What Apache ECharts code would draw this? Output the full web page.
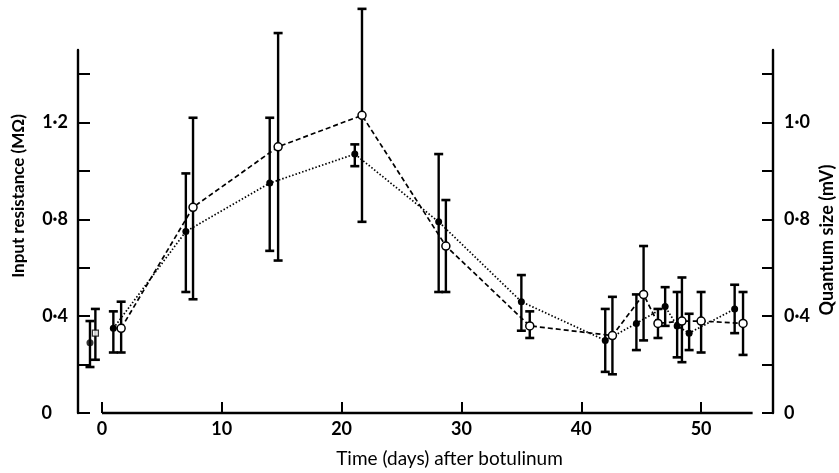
<!DOCTYPE html>
<html>
<head>
<meta charset="utf-8">
<script src="https://cdn.jsdelivr.net/npm/echarts@6/dist/echarts.min.js"></script>
<style>html,body{margin:0;padding:0;background:#fff}#c{width:839px;height:473px}</style>
</head>
<body>
<div id="c"></div>
<script>
// ---- data ----
const xTicks = [0, 10, 20, 30, 40, 50];
const leftTicks = [0, 0.2, 0.4, 0.6, 0.8, 1.0, 1.2, 1.4];
const leftLabels = [0, 0.4, 0.8, 1.2];
const leftLabelText = ['0', '0·4', '0·8', '1·2'];
const rightLabelText = ['0', '0·4', '0·8', '1·0'];

// filled circles (dotted line)
const filledDays = [0.95, 7.0, 14.0, 21.1, 28.1, 35.0, 42.0, 44.6, 47.0, 48.0, 49.0, 52.8];
const filledVals = [0.35, 0.75, 0.95, 1.07, 0.79, 0.46, 0.30, 0.37, 0.44, 0.36, 0.33, 0.43];
const filledLow  = [0.25, 0.50, 0.67, 1.02, 0.50, 0.34, 0.17, 0.26, 0.36, 0.23, 0.26, 0.33];
const filledHigh = [0.42, 0.99, 1.22, 1.11, 1.07, 0.57, 0.43, 0.49, 0.52, 0.50, 0.41, 0.53];

// open circles (dashed line)
const openDays = [1.6, 7.6, 14.7, 21.7, 28.7, 35.7, 42.6, 45.2, 46.4, 48.4, 50.0, 53.5];
const openVals = [0.35, 0.85, 1.10, 1.23, 0.69, 0.36, 0.32, 0.49, 0.37, 0.38, 0.38, 0.37];
const openLow  = [0.25, 0.47, 0.63, 0.79, 0.50, 0.31, 0.16, 0.30, 0.31, 0.21, 0.25, 0.24];
const openHigh = [0.46, 1.22, 1.57, 1.67, 0.88, 0.42, 0.48, 0.69, 0.43, 0.56, 0.50, 0.50];

// controls (unconnected)
const ctrlFilled = {day: -1.0, val: 0.29, low: 0.19, high: 0.38};
const ctrlOpen   = {day: -0.55, val: 0.33, low: 0.22, high: 0.43};

// x axis baseline extent (days)
const xLine = [[0, 0], [54.3, 0]];

// ---- build ----
const FONT = 'Lato, "Open Sans", sans-serif';
const zip = (d, v) => d.map((x, i) => [x, v[i]]);
const filledErr = filledDays.map((x, i) => [x, filledLow[i], filledHigh[i]]).concat([[ctrlFilled.day, ctrlFilled.low, ctrlFilled.high]]);
const openErr = openDays.map((x, i) => [x, openLow[i], openHigh[i]]).concat([[ctrlOpen.day, ctrlOpen.low, ctrlOpen.high]]);

function errItem(params, api) {
  const x = api.value(0);
  const lo = api.coord([x, api.value(1)]);
  const hi = api.coord([x, api.value(2)]);
  const w = 4.5;
  return {
    type: 'group',
    children: [
      {type: 'line', shape: {x1: lo[0], y1: lo[1], x2: hi[0], y2: hi[1]}, style: {stroke: '#000', lineWidth: 2.4}},
      {type: 'line', shape: {x1: lo[0] - w, y1: lo[1], x2: lo[0] + w, y2: lo[1]}, style: {stroke: '#000', lineWidth: 2.6}},
      {type: 'line', shape: {x1: hi[0] - w, y1: hi[1], x2: hi[0] + w, y2: hi[1]}, style: {stroke: '#000', lineWidth: 2.6}}
    ]
  };
}

const fmt = (vals, texts, pad0) => (v) => {
  for (let i = 0; i < vals.length; i++) if (Math.abs(v - vals[i]) < 1e-6) return (texts[i] === '0' && pad0) ? '{z|0}' : texts[i];
  return '';
};
const labelStyle = {color: '#000', fontFamily: FONT, fontWeight: 'bold', fontSize: 18};

const chart = echarts.init(document.getElementById('c'), null, {renderer: 'canvas'});
chart.setOption({
  backgroundColor: '#fff',
  animation: false,
  grid: {left: 78, right: 66, top: 50, bottom: 60, containLabel: false, outerBoundsMode: 'none'},
  xAxis: {
    type: 'value', min: -2, max: 56,
    axisLine: {show: false, onZero: false},
    splitLine: {show: false},
    axisTick: {show: true, inside: true, length: 11, customValues: xTicks, lineStyle: {color: '#000', width: 2}},
    axisLabel: Object.assign({customValues: xTicks, margin: 7}, labelStyle),
    name: 'Time (days) after botulinum', nameLocation: 'middle', nameGap: 36,
    nameTextStyle: {color: '#000', fontFamily: FONT, fontSize: 19, fontWeight: 'normal', padding: [0, 0, 0, 48]}
  },
  yAxis: [{
    type: 'value', min: 0, max: 1.5, position: 'left',
    axisLine: {show: true, onZero: false, lineStyle: {color: '#000', width: 2.4}},
    splitLine: {show: false},
    axisTick: {show: true, inside: true, length: 12, customValues: leftTicks, lineStyle: {color: '#000', width: 2}},
    axisLabel: Object.assign({customValues: leftLabels, formatter: fmt(leftLabels, leftLabelText, true), margin: 10,
      rich: {z: Object.assign({padding: [0, 16, 0, 0]}, labelStyle)}}, labelStyle)
  }, {
    type: 'value', min: 0, max: 1.5, position: 'right',
    axisLine: {show: true, onZero: false, lineStyle: {color: '#000', width: 2.4}},
    splitLine: {show: false},
    axisTick: {show: true, inside: true, length: 11, customValues: leftTicks, lineStyle: {color: '#000', width: 2}},
    axisLabel: Object.assign({customValues: leftLabels, formatter: fmt(leftLabels, rightLabelText, false), margin: 11}, labelStyle)
  }],
  graphic: [
    {type: 'text', x: 19, y: 196, rotation: Math.PI / 2,
      style: {text: 'Input resistance (MΩ)', fill: '#000', font: 'bold 17px ' + FONT, textAlign: 'center', textVerticalAlign: 'middle'}},
    {type: 'text', x: 827, y: 240, rotation: Math.PI / 2,
      style: {text: 'Quantum size (mV)', fill: '#000', font: 'bold 18px ' + FONT, textAlign: 'center', textVerticalAlign: 'middle'}}
  ],
  series: [
    {type: 'line', name: 'axisBase', data: xLine, symbol: 'none', clip: false, silent: true, z: 1,
      lineStyle: {color: '#000', width: 2.4, type: 'solid'}},
    {type: 'custom', name: 'errFilled', renderItem: errItem, data: filledErr, z: 2, clip: false, silent: true,
      encode: {x: 0, y: [1, 2]}},
    {type: 'custom', name: 'errOpen', renderItem: errItem, data: openErr, yAxisIndex: 1, z: 2, clip: false, silent: true,
      encode: {x: 0, y: [1, 2]}},
    {type: 'line', name: 'Input resistance', data: zip(filledDays, filledVals), z: 3,
      symbol: 'circle', symbolSize: 7, showAllSymbol: true,
      lineStyle: {color: '#000', width: 1.7, type: [1.5, 2]},
      itemStyle: {color: '#000', borderColor: '#000', borderWidth: 0}
    },
    {type: 'line', name: 'Quantum size', data: zip(openDays, openVals), yAxisIndex: 1, z: 4,
      symbol: 'circle', symbolSize: 8, showAllSymbol: true,
      lineStyle: {color: '#000', width: 1.7, type: [5, 3]},
      itemStyle: {color: '#fff', borderColor: '#000', borderWidth: 1.5}
    },
    {type: 'scatter', data: [[ctrlFilled.day, ctrlFilled.val]], symbol: 'circle', symbolSize: 7, z: 4,
      itemStyle: {color: '#000'}},
    {type: 'scatter', data: [[ctrlOpen.day, ctrlOpen.val]], yAxisIndex: 1, symbol: 'rect', symbolSize: 6, z: 4,
      itemStyle: {color: '#fff', borderColor: '#000', borderWidth: 1.3}}
  ]
});
</script>
</body>
</html>
